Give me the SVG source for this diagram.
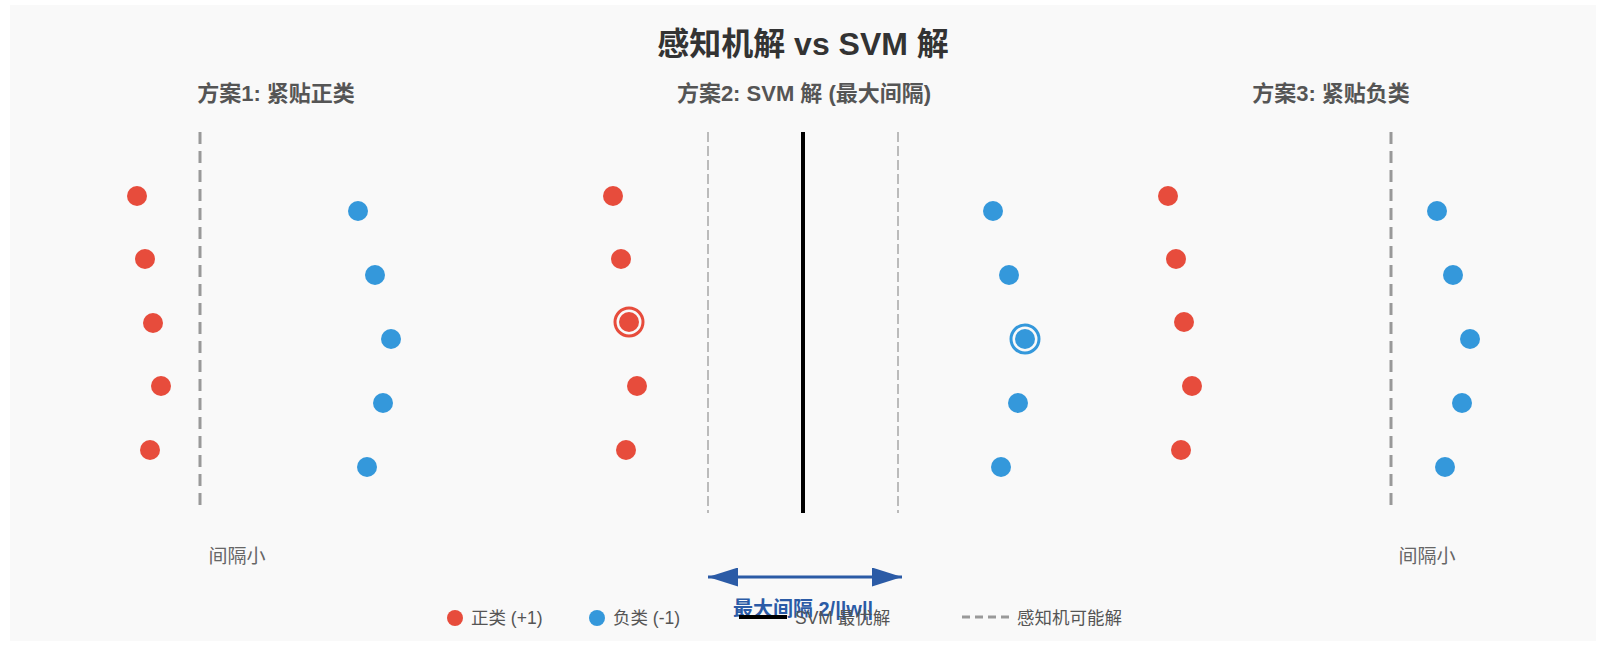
<svg xmlns="http://www.w3.org/2000/svg" width="1614" height="654" viewBox="0 0 1614 654">
<defs>
<style>
text{font-family:"Liberation Sans","Noto Sans CJK SC",sans-serif}
.title{font-size:32px;font-weight:bold;fill:#333;text-anchor:middle}
.sub{font-size:22px;font-weight:bold;fill:#555;text-anchor:middle}
.note{font-size:19px;fill:#666;text-anchor:middle}
.leg{font-size:17.5px;fill:#555}
.pos{fill:#e74c3c}
.neg{fill:#3498db}
.perc{stroke:#999;stroke-width:3;stroke-dasharray:12 7;fill:none}
.marg{stroke:#bbb;stroke-width:2;stroke-dasharray:10 4;fill:none}
.svm{stroke:#000;stroke-width:4;fill:none}
</style>
<marker id="arrE" viewBox="0 0 30 19" refX="30" refY="9.5" markerWidth="30" markerHeight="19" markerUnits="userSpaceOnUse" orient="auto"><path d="M0,0 L30,9.5 L0,19 Z" fill="#2b5ba6"/></marker>
<marker id="arrS" viewBox="0 0 30 19" refX="0" refY="9.5" markerWidth="30" markerHeight="19" markerUnits="userSpaceOnUse" orient="auto"><path d="M30,0 L0,9.5 L30,19 Z" fill="#2b5ba6"/></marker>
</defs>
<rect x="10" y="5" width="1586" height="636" fill="#f9f9f9"/>
<text class="title" x="803" y="55">感知机解 vs SVM 解</text>
<text class="sub" x="276" y="101">方案1: 紧贴正类</text>
<text class="sub" x="804" y="101">方案2: SVM 解 (最大间隔)</text>
<text class="sub" x="1331" y="101">方案3: 紧贴负类</text>

<g id="connectors">
<line class="perc" x1="200" y1="132" x2="200" y2="512"/>
<line class="marg" x1="708" y1="132" x2="708" y2="513"/>
<line class="svm" x1="803" y1="132" x2="803" y2="513"/>
<line class="marg" x1="898" y1="132" x2="898" y2="513"/>
<line class="perc" x1="1391" y1="132" x2="1391" y2="512"/>
<line x1="708" y1="577" x2="902" y2="577" stroke="#2b5ba6" stroke-width="3" marker-start="url(#arrS)" marker-end="url(#arrE)"/>
</g>

<g id="panel1">
<circle class="pos" cx="137" cy="196" r="10"/>
<circle class="pos" cx="145" cy="259" r="10"/>
<circle class="pos" cx="153" cy="323" r="10"/>
<circle class="pos" cx="161" cy="386" r="10"/>
<circle class="pos" cx="150" cy="450" r="10"/>
<circle class="neg" cx="358" cy="211" r="10"/>
<circle class="neg" cx="375" cy="275" r="10"/>
<circle class="neg" cx="391" cy="339" r="10"/>
<circle class="neg" cx="383" cy="403" r="10"/>
<circle class="neg" cx="367" cy="467" r="10"/>
<text class="note" x="237" y="563">间隔小</text>
</g>

<g id="panel2">
<circle class="pos" cx="613" cy="196" r="10"/>
<circle class="pos" cx="621" cy="259" r="10"/>
<circle class="pos" cx="629" cy="322" r="10"/>
<circle cx="629" cy="322" r="14" fill="none" stroke="#e74c3c" stroke-width="3"/>
<circle class="pos" cx="637" cy="386" r="10"/>
<circle class="pos" cx="626" cy="450" r="10"/>
<circle class="neg" cx="993" cy="211" r="10"/>
<circle class="neg" cx="1009" cy="275" r="10"/>
<circle class="neg" cx="1025" cy="339" r="10"/>
<circle cx="1025" cy="339" r="14" fill="none" stroke="#3498db" stroke-width="3"/>
<circle class="neg" cx="1018" cy="403" r="10"/>
<circle class="neg" cx="1001" cy="467" r="10"/>
<text x="803" y="616" font-size="20" font-weight="bold" fill="#2b5ba6" text-anchor="middle">最大间隔 2/||w||</text>
</g>

<g id="panel3">
<circle class="pos" cx="1168" cy="196" r="10"/>
<circle class="pos" cx="1176" cy="259" r="10"/>
<circle class="pos" cx="1184" cy="322" r="10"/>
<circle class="pos" cx="1192" cy="386" r="10"/>
<circle class="pos" cx="1181" cy="450" r="10"/>
<circle class="neg" cx="1437" cy="211" r="10"/>
<circle class="neg" cx="1453" cy="275" r="10"/>
<circle class="neg" cx="1470" cy="339" r="10"/>
<circle class="neg" cx="1462" cy="403" r="10"/>
<circle class="neg" cx="1445" cy="467" r="10"/>
<text class="note" x="1427" y="563">间隔小</text>
</g>

<g id="legend">
<circle class="pos" cx="455" cy="618" r="8"/>
<text class="leg" x="471" y="624">正类 (+1)</text>
<circle class="neg" cx="597" cy="618" r="8"/>
<text class="leg" x="613" y="624">负类 (-1)</text>
<line x1="739" y1="617" x2="787" y2="617" stroke="#000" stroke-width="4"/>
<text class="leg" x="795" y="624">SVM 最优解</text>
<line x1="962" y1="617" x2="1009" y2="617" stroke="#999" stroke-width="3" stroke-dasharray="8 5"/>
<text class="leg" x="1017" y="624">感知机可能解</text>
</g>
</svg>
